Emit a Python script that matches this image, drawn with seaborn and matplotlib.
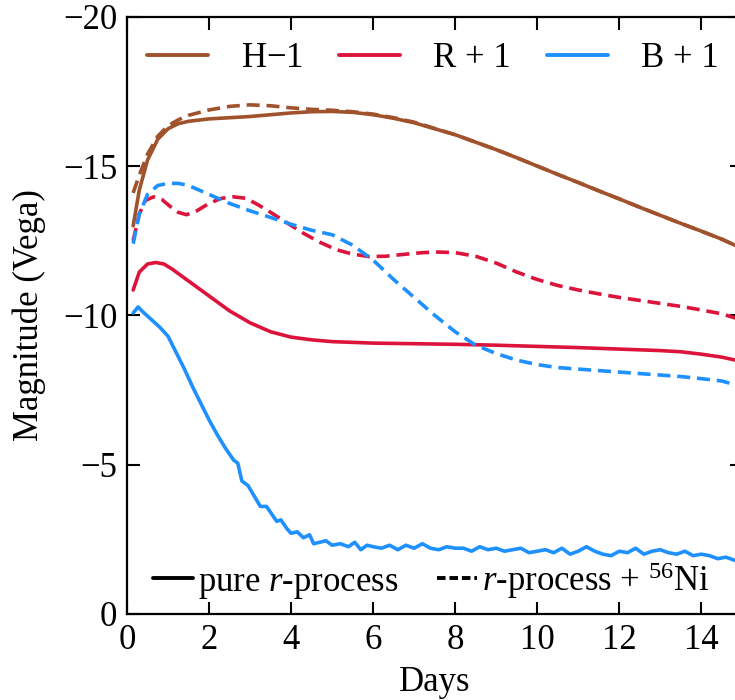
import numpy as np
import pandas as pd
import matplotlib
matplotlib.use("Agg")
import matplotlib.pyplot as plt
from matplotlib.lines import Line2D
import seaborn as sns

# --- light curves (days, Vega magnitude) ---
h_pure_days = [0.15, 0.3, 0.5, 0.75, 1.0, 1.25, 1.5, 2.0, 2.5, 3.0, 3.5, 4.0, 4.5, 5.0, 5.5, 6.0,
               6.5, 7.0, 7.5, 8.0, 8.5, 9.0, 9.5, 10.0, 10.5, 11.0, 11.5, 12.0, 12.5, 13.0, 13.5,
               14.0, 14.5, 14.9]
h_pure_mag = [-13.0, -14.2, -15.2, -15.9, -16.25, -16.42, -16.5, -16.58, -16.62, -16.66, -16.72,
              -16.78, -16.82, -16.83, -16.8, -16.72, -16.6, -16.45, -16.25, -16.05, -15.8, -15.55,
              -15.28, -15.0, -14.72, -14.45, -14.17, -13.9, -13.62, -13.35, -13.08, -12.82,
              -12.55, -12.3]

h_ni_days = h_pure_days
h_ni_mag = [-14.1, -14.7, -15.4, -16.0, -16.35, -16.55, -16.7, -16.88, -17.0, -17.05, -17.02,
            -16.95, -16.9, -16.87, -16.82, -16.74, -16.62, -16.47, -16.26, -16.05, -15.8, -15.55,
            -15.28, -15.0, -14.72, -14.45, -14.17, -13.9, -13.62, -13.35, -13.08, -12.82,
            -12.55, -12.3]

r_pure_days = [0.15, 0.3, 0.5, 0.7, 0.9, 1.1, 1.4, 1.7, 2.0, 2.5, 3.0, 3.5, 4.0, 4.5, 5.0, 6.0,
               7.0, 8.0, 9.0, 10.0, 11.0, 12.0, 13.0, 13.5, 14.0, 14.5, 14.9]
r_pure_mag = [-10.85, -11.45, -11.72, -11.77, -11.72, -11.55, -11.25, -10.95, -10.65, -10.15,
              -9.75, -9.45, -9.27, -9.18, -9.12, -9.07, -9.05, -9.03, -9.0, -8.96, -8.92, -8.87,
              -8.82, -8.78, -8.7, -8.6, -8.48]

r_ni_days = [0.15, 0.3, 0.45, 0.65, 0.85, 1.05, 1.25, 1.45, 1.7, 2.0, 2.3, 2.6, 2.9, 3.2, 3.5,
             3.9, 4.3, 4.7, 5.1, 5.5, 5.9, 6.3, 6.8, 7.2, 7.6, 8.0, 8.5, 9.0, 9.5, 10.0, 10.5,
             11.0, 11.5, 12.0, 12.5, 13.0, 13.5, 14.0, 14.5, 14.9]
r_ni_mag = [-12.5, -13.4, -13.85, -13.97, -13.88, -13.65, -13.45, -13.37, -13.5, -13.75, -13.92,
            -13.97, -13.92, -13.7, -13.45, -13.1, -12.75, -12.45, -12.2, -12.05, -11.97, -11.98,
            -12.05, -12.1, -12.12, -12.1, -11.98, -11.75, -11.45, -11.2, -11.0, -10.85, -10.72,
            -10.6, -10.5, -10.4, -10.3, -10.18, -10.05, -9.88]

b_pure_days = [0.15, 0.27, 0.4, 0.6, 0.8, 1.0, 1.2, 1.4, 1.6, 1.8, 2.0, 2.2, 2.4, 2.6, 2.7, 2.8,
               2.95, 3.1, 3.25, 3.4, 3.55, 3.65, 3.75, 3.9, 4.0, 4.15, 4.3, 4.45, 4.55, 4.7, 4.85,
               5.0, 5.2, 5.4, 5.55, 5.7, 5.85, 6.0, 6.2, 6.4, 6.6, 6.8, 7.0, 7.2, 7.4, 7.6, 7.8,
               8.0, 8.2, 8.4, 8.6, 8.8, 9.0, 9.2, 9.4, 9.6, 9.8, 10.0, 10.2, 10.4, 10.6, 10.8,
               11.0, 11.2, 11.4, 11.6, 11.8, 12.0, 12.2, 12.4, 12.6, 12.8, 13.0, 13.2, 13.4,
               13.6, 13.8, 14.0, 14.2, 14.4, 14.6, 14.8, 14.9]
b_pure_mag = [-10.08, -10.28, -10.1, -9.85, -9.6, -9.3, -8.75, -8.2, -7.6, -7.05, -6.5, -6.0,
              -5.55, -5.15, -5.05, -4.45, -4.3, -3.95, -3.6, -3.6, -3.3, -3.1, -3.15, -2.85,
              -2.7, -2.75, -2.55, -2.65, -2.35, -2.4, -2.45, -2.3, -2.35, -2.25, -2.4, -2.15,
              -2.3, -2.25, -2.2, -2.3, -2.15, -2.3, -2.2, -2.35, -2.2, -2.15, -2.25, -2.2,
              -2.2, -2.1, -2.25, -2.15, -2.2, -2.1, -2.15, -2.2, -2.05, -2.1, -2.15, -2.05,
              -2.2, -2.0, -2.1, -2.25, -2.1, -2.0, -1.95, -2.1, -2.05, -2.2, -2.0, -2.1, -2.15,
              -2.05, -2.0, -2.1, -1.95, -2.0, -1.95, -1.85, -1.9, -1.8, -1.78]

b_ni_days = [0.15, 0.3, 0.5, 0.75, 1.0, 1.25, 1.5, 2.0, 2.5, 3.0, 3.5, 4.0, 4.5, 5.0, 5.5, 6.0,
             6.5, 7.0, 7.5, 8.0, 8.5, 9.0, 9.5, 10.0, 10.5, 11.0, 11.5, 12.0, 12.5, 13.0, 13.5,
             14.0, 14.5, 14.9]
b_ni_mag = [-12.4, -13.4, -14.05, -14.35, -14.42, -14.42, -14.35, -14.05, -13.75, -13.5, -13.28,
            -13.05, -12.85, -12.7, -12.35, -11.85, -11.2, -10.6, -10.0, -9.45, -9.0, -8.72, -8.5,
            -8.35, -8.25, -8.2, -8.15, -8.1, -8.05, -8.0, -7.95, -7.88, -7.8, -7.65]

bands = ["H$-$1", "R + 1", "B + 1"]
colors = ["#A0522D", "#DC143C", "#1E90FF"]

series = [
    (bands[0], "pure", h_pure_days, h_pure_mag),
    (bands[0], "ni", h_ni_days, h_ni_mag),
    (bands[1], "pure", r_pure_days, r_pure_mag),
    (bands[1], "ni", r_ni_days, r_ni_mag),
    (bands[2], "pure", b_pure_days, b_pure_mag),
    (bands[2], "ni", b_ni_days, b_ni_mag),
]
df = pd.concat([pd.DataFrame({"day": d, "mag": m, "band": b, "model": mod})
                for b, mod, d, m in series], ignore_index=True)

# --- style ---
sns.set_style("ticks")
plt.rcParams["font.family"] = ["Liberation Serif", "DejaVu Serif"]
plt.rcParams["mathtext.fontset"] = "custom"
plt.rcParams["mathtext.rm"] = "Liberation Serif"
plt.rcParams["mathtext.it"] = "Liberation Serif:italic"
for k in ["text.color", "axes.labelcolor", "axes.edgecolor", "xtick.color", "ytick.color"]:
    plt.rcParams[k] = "black"
FS = 25
plt.rcParams["font.size"] = FS

fig = plt.figure(figsize=(7.35, 7.0), dpi=100)
ax = fig.add_axes([0.1728, 0.123, 0.8272 + 0.01, 0.853])

sns.lineplot(data=df, x="day", y="mag", hue="band", style="model",
             palette=dict(zip(bands, colors)),
             dashes={"pure": "", "ni": (3.6, 1.9)},
             estimator=None, sort=False, linewidth=2.6, legend=False, ax=ax)

ax.set_xlim(0, 15.0)
ax.set_ylim(0, -20)
ax.set_xticks([0, 2, 4, 6, 8, 10, 12, 14])
ax.set_yticks([0, -5, -10, -15, -20])
ax.tick_params(direction="in", length=9, width=1.5, top=True, right=True,
               labelsize=FS, pad=7)
for s in ax.spines.values():
    s.set_linewidth(1.6)
ax.set_xlabel("Days", fontsize=FS, labelpad=7)
ax.set_ylabel("Magnitude (Vega)", fontsize=FS, labelpad=12)

# colour legend (top)
h1 = [Line2D([], [], color=c, lw=2.8) for c in colors]
leg1 = ax.legend(h1, bands, loc="upper center", bbox_to_anchor=(0.497, 1.01), ncol=3,
                 frameon=False, handlelength=1.75, columnspacing=1.05, handletextpad=0.95,
                 fontsize=FS)
ax.add_artist(leg1)

# model legend (bottom)
h2 = [Line2D([], [], color="black", lw=2.8),
      Line2D([], [], color="black", lw=2.8, ls=(0, (2.2, 1.0)))]
ax.legend(h2, ["pure $r$-process", "$r$-process + $^{56}$Ni"], loc="lower center",
          bbox_to_anchor=(0.495, -0.03), ncol=2, frameon=False, handlelength=1.15,
          columnspacing=1.1, handletextpad=0.15, fontsize=FS)

fig.savefig("out.png", dpi=100)
